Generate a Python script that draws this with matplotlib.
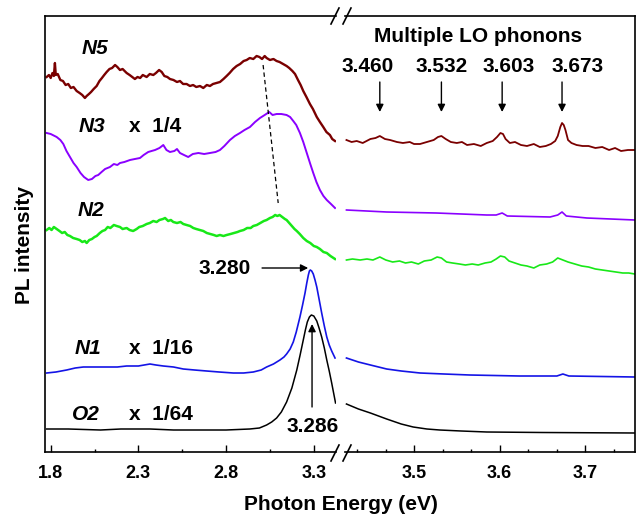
import matplotlib
matplotlib.use("Agg")
import matplotlib.pyplot as plt
from matplotlib.lines import Line2D
from matplotlib.ticker import FixedLocator, NullFormatter

plt.rcParams['font.family'] = ['Liberation Sans', 'DejaVu Sans']
plt.rcParams['font.weight'] = 'bold'

# ---------------- spectra (photon energy in eV, offset PL intensity in a.u.) ----------------
# low-energy window (visible band) and high-energy window (LO phonon replicas)
e_n5_low = [1.777, 1.790, 1.800, 1.810, 1.818, 1.824, 1.829, 1.840, 1.855, 1.870, 1.885, 1.900,
            1.915, 1.930, 1.948, 1.965, 1.980, 1.995, 2.005, 2.018, 2.030, 2.045, 2.062, 2.078,
            2.092, 2.105, 2.119, 2.135, 2.150, 2.167, 2.180, 2.195, 2.210, 2.233, 2.250, 2.265,
            2.280, 2.295, 2.310, 2.325, 2.347, 2.365, 2.385, 2.400, 2.418, 2.433, 2.448, 2.465,
            2.480, 2.500, 2.520, 2.537, 2.555, 2.575, 2.594, 2.612, 2.630, 2.651, 2.670, 2.690,
            2.708, 2.725, 2.745, 2.765, 2.785, 2.803, 2.820, 2.840, 2.860, 2.880, 2.900, 2.917,
            2.935, 2.955, 2.974, 2.990, 3.005, 3.020, 3.031, 3.050, 3.070, 3.088, 3.105, 3.125,
            3.145, 3.160, 3.178, 3.193, 3.210, 3.225, 3.240, 3.258, 3.278, 3.295, 3.317, 3.335,
            3.354, 3.372, 3.392, 3.405, 3.421]
i_n5_low = [375, 377, 374, 379, 376, 389, 377, 378, 372, 371, 367, 368,
            364, 365, 361, 359, 357, 354, 356, 358, 360, 363, 366, 371,
            374, 377, 380, 383, 384, 387, 385, 382, 383, 379, 377, 375,
            373, 375, 374, 377, 375, 378, 377, 379, 382, 380, 376, 375,
            373, 372, 370, 371, 368, 368, 366, 367, 365, 366, 364, 367,
            366, 368, 369, 370, 373, 376, 379, 383, 386, 388, 391, 392,
            394, 393, 396, 395, 393, 396, 394, 392, 393, 391, 390, 388,
            386, 384, 381, 378, 372, 367, 361, 355, 348, 343, 335, 330,
            325, 320, 317, 313, 311]
e_n5_high = [3.421, 3.427, 3.433, 3.440, 3.449, 3.455, 3.460, 3.466, 3.472, 3.480, 3.487, 3.495,
             3.500, 3.507, 3.515, 3.523, 3.528, 3.532, 3.537, 3.543, 3.550, 3.556, 3.562, 3.570,
             3.578, 3.585, 3.592, 3.597, 3.601, 3.604, 3.607, 3.612, 3.618, 3.625, 3.632, 3.640,
             3.647, 3.654, 3.660, 3.665, 3.668, 3.671, 3.673, 3.675, 3.677, 3.680, 3.684, 3.690,
             3.697, 3.704, 3.712, 3.720, 3.728, 3.735, 3.742, 3.750, 3.758]
i_n5_high = [312, 310, 311, 309, 313, 314, 316, 313, 312, 310, 309, 310,
             308, 308, 310, 312, 315, 316, 313, 310, 309, 310, 307, 308,
             306, 309, 311, 315, 319, 318, 313, 309, 310, 307, 306, 308,
             305, 306, 308, 311, 316, 325, 329, 327, 322, 312, 309, 307,
             306, 306, 304, 305, 302, 304, 301, 302, 302]

e_n3_low = [1.777, 1.800, 1.834, 1.855, 1.872, 1.890, 1.910, 1.930, 1.948, 1.970, 1.990, 2.014,
            2.035, 2.055, 2.071, 2.090, 2.110, 2.138, 2.160, 2.180, 2.195, 2.220, 2.252, 2.280,
            2.309, 2.330, 2.356, 2.375, 2.395, 2.420, 2.442, 2.460, 2.480, 2.505, 2.520, 2.537,
            2.560, 2.584, 2.610, 2.642, 2.675, 2.708, 2.740, 2.765, 2.790, 2.822, 2.850, 2.879,
            2.905, 2.936, 2.965, 2.993, 3.020, 3.046, 3.065, 3.088, 3.115, 3.145, 3.165, 3.183,
            3.200, 3.221, 3.240, 3.260, 3.280, 3.297, 3.315, 3.335, 3.355, 3.374, 3.398, 3.421]
i_n3_low = [319, 318, 315, 312, 308, 301, 295, 289, 285, 279, 275, 272,
            273, 276, 277, 280, 283, 285, 288, 287, 289, 290, 292, 293,
            294, 297, 300, 301, 302, 304, 307, 302, 300, 301, 303, 299,
            297, 295, 298, 299, 298, 299, 300, 302, 306, 312, 316, 319,
            322, 325, 330, 334, 337, 340, 337, 338, 338, 337, 335, 331,
            327, 319, 310, 299, 288, 279, 270, 262, 256, 252, 248, 244]
e_n3_high = [3.421, 3.468, 3.526, 3.585, 3.596, 3.603, 3.609, 3.659, 3.668, 3.673, 3.678, 3.702, 3.758]
i_n3_high = [242, 240, 239, 237, 237, 239, 236, 235, 237, 240, 236, 234, 232]

e_n2_low = [1.777, 1.792, 1.805, 1.818, 1.834, 1.850, 1.865, 1.880, 1.895, 1.910, 1.928, 1.948,
            1.965, 1.980, 1.995, 2.005, 2.020, 2.035, 2.050, 2.062, 2.080, 2.095, 2.110, 2.125,
            2.140, 2.160, 2.176, 2.195, 2.210, 2.233, 2.250, 2.270, 2.290, 2.305, 2.325, 2.347,
            2.365, 2.385, 2.404, 2.420, 2.440, 2.452, 2.470, 2.485, 2.499, 2.520, 2.540, 2.556,
            2.575, 2.595, 2.613, 2.630, 2.650, 2.670, 2.690, 2.710, 2.730, 2.746, 2.765, 2.785,
            2.803, 2.825, 2.845, 2.865, 2.879, 2.900, 2.920, 2.940, 2.955, 2.975, 2.995, 3.015,
            3.031, 3.050, 3.065, 3.080, 3.092, 3.105, 3.120, 3.135, 3.145, 3.160, 3.175, 3.190,
            3.203, 3.220, 3.240, 3.260, 3.280, 3.300, 3.317, 3.335, 3.355, 3.374, 3.395, 3.421]
i_n2_low = [222, 224, 222, 225, 223, 221, 219, 220, 217, 216, 214, 213,
            212, 210, 211, 209, 212, 213, 215, 216, 219, 221, 222, 225,
            224, 227, 226, 225, 223, 224, 222, 221, 223, 225, 226, 228,
            229, 231, 230, 232, 233, 234, 231, 232, 230, 229, 230, 228,
            227, 226, 224, 223, 222, 221, 219, 218, 217, 216, 217, 216,
            217, 218, 219, 220, 221, 222, 224, 224, 226, 227, 229, 231,
            232, 234, 235, 237, 236, 237, 235, 233, 232, 229, 226, 223,
            221, 218, 214, 211, 209, 206, 205, 203, 200, 199, 196, 193]
e_n2_high = [3.421, 3.428, 3.437, 3.445, 3.452, 3.460, 3.467, 3.475, 3.483, 3.490, 3.497, 3.505,
             3.512, 3.520, 3.527, 3.532, 3.538, 3.545, 3.553, 3.560, 3.568, 3.575, 3.583, 3.590,
             3.596, 3.601, 3.606, 3.611, 3.618, 3.625, 3.632, 3.640, 3.647, 3.655, 3.662, 3.668,
             3.674, 3.680, 3.688, 3.696, 3.704, 3.712, 3.720, 3.728, 3.736, 3.744, 3.751, 3.758]
i_n2_high = [192, 193, 192, 193, 192, 195, 192, 190, 191, 189, 190, 188,
             191, 192, 195, 194, 190, 189, 188, 187, 188, 187, 189, 190,
             193, 196, 195, 191, 189, 187, 186, 184, 187, 188, 190, 194,
             192, 190, 188, 186, 185, 183, 182, 181, 180, 179, 179, 178]

e_n1_low = [1.777, 1.830, 1.891, 1.940, 1.986, 2.050, 2.119, 2.180, 2.233, 2.300, 2.366, 2.400,
            2.442, 2.500, 2.556, 2.620, 2.689, 2.760, 2.841, 2.900, 2.955, 3.000, 3.031, 3.070,
            3.107, 3.130, 3.145, 3.165, 3.183, 3.200, 3.221, 3.236, 3.250, 3.260, 3.269, 3.275,
            3.280, 3.288, 3.297, 3.307, 3.317, 3.330, 3.345, 3.360, 3.374, 3.388, 3.402, 3.421]
i_n1_low = [79, 80, 82, 84, 85, 85, 85, 85, 86, 86, 88, 87,
            86, 85, 83, 82, 81, 80, 79, 79, 80, 82, 85, 88,
            92, 95, 98, 103, 110, 120, 135, 147, 159, 169, 177, 181,
            182, 181, 178, 172, 165, 153, 139, 126, 115, 107, 101, 94]
e_n1_high = [3.421, 3.435, 3.449, 3.468, 3.485, 3.507, 3.535, 3.565, 3.623, 3.667, 3.674, 3.681, 3.758]
i_n1_high = [94, 90, 87, 83, 81, 79, 78, 77, 76, 76, 78, 76, 75]

e_o2_low = [1.777, 1.900, 2.084, 2.200, 2.366, 2.500, 2.651, 2.800, 2.935, 2.990, 3.031, 3.060,
            3.088, 3.115, 3.145, 3.175, 3.203, 3.222, 3.240, 3.252, 3.263, 3.275, 3.286, 3.300,
            3.317, 3.330, 3.345, 3.360, 3.374, 3.388, 3.402, 3.424]
i_o2_low = [23, 23, 22, 23, 23, 22, 22, 22, 23, 24, 27, 30,
            34, 40, 50, 64, 82, 97, 112, 122, 130, 135, 137, 136,
            131, 124, 115, 104, 92, 81, 69, 49]
e_o2_high = [3.421, 3.435, 3.449, 3.468, 3.485, 3.499, 3.515, 3.530, 3.555, 3.585, 3.650, 3.758]
i_o2_high = [48, 43, 39, 33, 28, 25, 23, 22, 21, 20, 19.5, 19]

# annotations
sample_names = ['N5', 'N3', 'N2', 'N1', 'O2']
scale_labels = ['', 'x  1/4', '', 'x  1/16', 'x  1/64']
phonon_lines = [3.460, 3.532, 3.603, 3.673]
peak_n1 = 3.280
peak_o2 = 3.286

# tick positions
low_major = [1.8, 2.3, 2.8, 3.3]
low_minor = [2.05, 2.55, 3.05]
high_major = [3.5, 3.6, 3.7]
high_minor = [3.4333, 3.4667, 3.5333, 3.5667, 3.6333, 3.6667, 3.7333]

colors = {'N5': '#7a0000', 'N3': '#8a00ff', 'N2': '#18e818', 'N1': '#1414e6', 'O2': '#000000'}

# ---------------- figure layout ----------------
W, H = 638, 516
fig = plt.figure(figsize=(W / 100, H / 100), dpi=100)

def frac(x0, y0, x1, y1):
    return [x0 / W, 1 - y1 / H, (x1 - x0) / W, (y1 - y0) / H]

ax1 = fig.add_axes(frac(45, 16, 336, 452))
ax2 = fig.add_axes(frac(345, 16, 635, 452))

ax1.set_xlim(1.7675, 3.4266)
ax2.set_xlim(3.4193, 3.7583)
for ax in (ax1, ax2):
    ax.set_ylim(0, 436)
    ax.set_yticks([])
    for s in ax.spines.values():
        s.set_linewidth(1.2)
    ax.tick_params(axis='x', which='both', direction='in', top=False, width=1.0, pad=9,
                   labelsize=13)
    ax.tick_params(axis='x', which='major', length=5)
    ax.tick_params(axis='x', which='minor', length=2.4)

ax1.spines['right'].set_visible(False)
ax2.spines['left'].set_visible(False)

ax1.xaxis.set_major_locator(FixedLocator(low_major))
ax1.xaxis.set_minor_locator(FixedLocator(low_minor))
ax1.set_xticklabels([f'{v:.1f}' for v in low_major], fontweight='bold', fontsize=13)
ax2.xaxis.set_major_locator(FixedLocator(high_major))
ax2.xaxis.set_minor_locator(FixedLocator(high_minor))
ax2.set_xticklabels([f'{v:.1f}' for v in high_major], fontweight='bold', fontsize=13)
ax2.xaxis.set_minor_formatter(NullFormatter())

# ---------------- spectra ----------------
ax1.plot(e_n5_low, i_n5_low, color=colors['N5'], lw=1.7)
ax2.plot(e_n5_high, i_n5_high, color=colors['N5'], lw=1.3)
ax1.plot(e_n3_low, i_n3_low, color=colors['N3'], lw=1.4)
ax2.plot(e_n3_high, i_n3_high, color=colors['N3'], lw=1.2)
ax1.plot(e_n2_low, i_n2_low, color=colors['N2'], lw=1.8)
ax2.plot(e_n2_high, i_n2_high, color=colors['N2'], lw=1.2)
ax1.plot(e_n1_low, i_n1_low, color=colors['N1'], lw=1.2)
ax2.plot(e_n1_high, i_n1_high, color=colors['N1'], lw=1.2)
ax1.plot(e_o2_low, i_o2_low, color=colors['O2'], lw=1.1)
ax2.plot(e_o2_high, i_o2_high, color=colors['O2'], lw=1.1)

# peak-shift guide through the N5 / N3 / N2 maxima
ax1.plot([3.011, 3.097], [387, 249], color='black', lw=0.9, ls=(0, (3.5, 2.5)))

# sample labels
name_pos = [(2.053, 403), (2.033, 325), (2.027, 241), (2.013, 103), (2.001, 38)]
for name, scale, (x, y) in zip(sample_names, scale_labels, name_pos):
    ax1.text(x, y, name, fontsize=15, fontweight='bold', fontstyle='italic',
             ha='center', va='center')
    if scale:
        ax1.text(2.245, y, scale, fontsize=15, fontweight='bold', ha='left', va='center')

# N1 and O2 peak markers
arrow_kw = dict(arrowstyle='-|>', color='black', lw=1.0, mutation_scale=11, shrinkA=0, shrinkB=0)
ax1.annotate('', xy=(peak_n1 - 0.012, 184), xytext=(3.005, 184), arrowprops=arrow_kw)
ax1.text(2.94, 183, f'{peak_n1:.3f}', fontsize=15, fontweight='bold', ha='right', va='center')
ax1.annotate('', xy=(peak_o2 + 0.004, 128), xytext=(peak_o2 + 0.004, 45), arrowprops=arrow_kw)
ax1.text(peak_o2 + 0.006, 25, f'{peak_o2:.3f}', fontsize=15, fontweight='bold',
         ha='center', va='center', clip_on=False)

# LO phonon replicas
ax2.text(3.575, 415, 'Multiple LO phonons', fontsize=15, fontweight='bold', ha='center', va='center')
label_x = [3.446, 3.532, 3.611, 3.691]
for e, lx in zip(phonon_lines, label_x):
    ax2.text(lx, 386, f'{e:.3f}', fontsize=15, fontweight='bold', ha='center', va='center')
    ax2.annotate('', xy=(e, 340), xytext=(e, 370), arrowprops=arrow_kw)

# axis titles
fig.text(341 / W, 1 - 505 / H, 'Photon Energy (eV)', fontsize=15, fontweight='bold',
         ha='center', va='center')
fig.text(24 / W, 1 - 245 / H, 'PL intensity', fontsize=15, fontweight='bold',
         ha='center', va='center', rotation=90)

# scale-break marks on the top and bottom frame
for yb in (16, 453):
    for xb in (335, 347):
        fig.add_artist(Line2D([(xb - 4) / W, (xb + 4) / W],
                              [1 - (yb + 8) / H, 1 - (yb - 8) / H],
                              transform=fig.transFigure, color='black', lw=1.2))

fig.savefig('out.png', dpi=100)
